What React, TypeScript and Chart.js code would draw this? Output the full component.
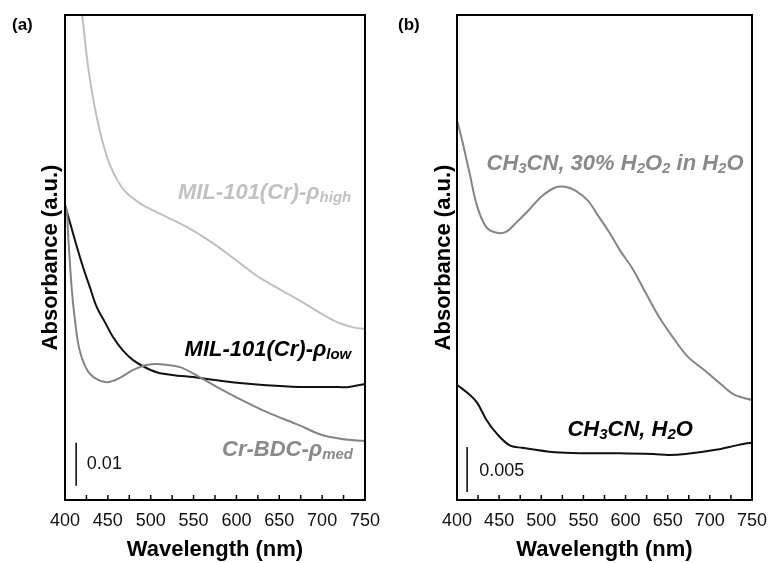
import React, { useEffect, useRef } from "react";
import { Chart, registerables } from "chart.js";
Chart.register(...registerables);

const FONT = "'Liberation Sans', Arial, Helvetica, sans-serif";

const X_MIN = 400;
const X_MAX = 750;
const xTickStep = 25;
const xLabelStep = 50;

// ---------- Panel (a) ----------
const highWl = [400, 410, 420, 427, 437, 449, 461, 472, 491, 519, 542, 572, 604, 627, 673, 712, 735, 750];
const highAbs = [0.145, 0.127, 0.1128, 0.1007, 0.0891, 0.0798, 0.0744, 0.0714, 0.0686, 0.0658, 0.0635, 0.0598, 0.0551, 0.0517, 0.0465, 0.0419, 0.0402, 0.0398];

const lowWl = [400, 406, 414, 421, 429, 437, 447, 456, 467, 479, 495, 511, 557, 595, 635, 673, 712, 731, 750];
const lowAbs = [0.0686, 0.0644, 0.0588, 0.0542, 0.0495, 0.0449, 0.0412, 0.0379, 0.0349, 0.0326, 0.0307, 0.0295, 0.0284, 0.0274, 0.0267, 0.0263, 0.0263, 0.0263, 0.027];

const medWl = [400, 402, 404, 408, 412, 417, 426, 437, 449, 464, 479, 495, 511, 534, 557, 577, 595, 635, 673, 700, 723, 750];
const medAbs = [0.0686, 0.0674, 0.0605, 0.0488, 0.0412, 0.0349, 0.0302, 0.0281, 0.0274, 0.0284, 0.0302, 0.0314, 0.0316, 0.0309, 0.0286, 0.0263, 0.0244, 0.0205, 0.0174, 0.0151, 0.0142, 0.0137];

const panelAYMax = 0.1128;

// ---------- Panel (b) ----------
const h2o2Wl = [400, 406, 415, 424, 435, 447, 458, 470, 485, 500, 516, 528, 540, 555, 566, 581, 593, 609, 624, 640, 656, 674, 694, 714, 729, 750];
const h2o2Abs = [0.0422, 0.04, 0.0363, 0.0326, 0.0303, 0.0297, 0.0298, 0.0308, 0.0322, 0.0337, 0.0347, 0.0348, 0.0344, 0.0333, 0.0318, 0.0297, 0.0278, 0.0256, 0.023, 0.0203, 0.0181, 0.0159, 0.0144, 0.0128, 0.0117, 0.0111];

const h2oWl = [400, 415, 424, 435, 447, 462, 477, 516, 555, 593, 633, 651, 671, 709, 733, 750];
const h2oAbs = [0.0128, 0.0117, 0.0108, 0.0089, 0.0074, 0.0061, 0.0058, 0.0053, 0.0052, 0.0052, 0.0051, 0.005, 0.0051, 0.0056, 0.0061, 0.0064];

const panelBYMax = 0.0539;

// Labels: segments [text, isSubscript]
type Seg = [string, number];
type Label = { segs: Seg[]; x: number; y: number; align: "left" | "right"; color: string };

const panelALabels: Label[] = [
  { segs: [["MIL-101(Cr)-ρ", 0], ["high", 1]], x: 734, y: 0.0714, align: "right", color: "#c2c2c2" },
  { segs: [["MIL-101(Cr)-ρ", 0], ["low", 1]], x: 734, y: 0.0349, align: "right", color: "#000000" },
  { segs: [["Cr-BDC-ρ", 0], ["med", 1]], x: 736, y: 0.0116, align: "right", color: "#8a8a8a" },
];
const panelBLabels: Label[] = [
  { segs: [["CH", 0], ["3", 1], ["CN, 30% H", 0], ["2", 1], ["O", 0], ["2", 1], [" in H", 0], ["2", 1], ["O", 0]], x: 435, y: 0.0374, align: "left", color: "#8a8a8a" },
  { segs: [["CH", 0], ["3", 1], ["CN, H", 0], ["2", 1], ["O", 0]], x: 531, y: 0.0078, align: "left", color: "#000000" },
];

const panelABar = { x: 413, y0: 0.0033, y1: 0.0133, text: "0.01", textX: 425.5, textY: 0.0084 };
const panelBBar = { x: 412, y0: 0.0009, y1: 0.0059, text: "0.005", textX: 426.5, textY: 0.0032 };

type Series = { wl: number[]; abs: number[]; color: string };

const panelASeries: Series[] = [
  { wl: highWl, abs: highAbs, color: "#c0c0c0" },
  { wl: medWl, abs: medAbs, color: "#848484" },
  { wl: lowWl, abs: lowAbs, color: "#111111" },
];
const panelBSeries: Series[] = [
  { wl: h2o2Wl, abs: h2o2Abs, color: "#858585" },
  { wl: h2oWl, abs: h2oAbs, color: "#111111" },
];

type PanelProps = {
  width: number;
  letter: string;
  letterX: number;
  series: Series[];
  yMax: number;
  yWidth: number;
  padRight: number;
  yTitlePad: number;
  labels: Label[];
  bar: { x: number; y0: number; y1: number; text: string; textX: number; textY: number };
};

function drawRich(ctx: CanvasRenderingContext2D, l: Label, px: number, py: number) {
  const main = `italic bold 22px ${FONT}`;
  const sub = `italic bold 15px ${FONT}`;
  let total = 0;
  const widths = l.segs.map(([t, s]) => {
    ctx.font = s ? sub : main;
    const w = ctx.measureText(t).width;
    total += w;
    return w;
  });
  let x = l.align === "right" ? px - total : px;
  ctx.fillStyle = l.color;
  ctx.textAlign = "left";
  ctx.textBaseline = "middle";
  l.segs.forEach(([t, s], i) => {
    ctx.font = s ? sub : main;
    ctx.fillText(t, x, s ? py + 5 : py);
    x += widths[i];
  });
}

function Panel(props: PanelProps) {
  const ref = useRef<HTMLCanvasElement>(null);
  useEffect(() => {
    const p = props;
    const decor = {
      id: "decor",
      afterDraw(chart: any) {
        const ctx: CanvasRenderingContext2D = chart.ctx;
        const { left, right, top, bottom } = chart.chartArea;
        const xs = chart.scales.x;
        const ys = chart.scales.y;
        ctx.save();
        // inward ticks
        ctx.strokeStyle = "#000";
        ctx.lineWidth = 1.5;
        xs.ticks.forEach((t: any) => {
          const px = xs.getPixelForValue(t.value);
          ctx.beginPath();
          ctx.moveTo(px, bottom);
          ctx.lineTo(px, bottom - 5);
          ctx.stroke();
        });
        // frame
        ctx.lineWidth = 2;
        ctx.strokeRect(left, top, right - left, bottom - top);
        // scale bar
        const b = p.bar;
        ctx.lineWidth = 1.5;
        ctx.beginPath();
        ctx.moveTo(xs.getPixelForValue(b.x), ys.getPixelForValue(b.y0));
        ctx.lineTo(xs.getPixelForValue(b.x), ys.getPixelForValue(b.y1));
        ctx.stroke();
        ctx.fillStyle = "#111";
        ctx.font = `18px ${FONT}`;
        ctx.textAlign = "left";
        ctx.textBaseline = "middle";
        ctx.fillText(b.text, xs.getPixelForValue(b.textX), ys.getPixelForValue(b.textY));
        // curve labels
        p.labels.forEach((l) => drawRich(ctx, l, xs.getPixelForValue(l.x), ys.getPixelForValue(l.y)));
        // panel letter
        ctx.fillStyle = "#000";
        ctx.font = `bold 17px ${FONT}`;
        ctx.textAlign = "left";
        ctx.textBaseline = "middle";
        ctx.fillText(p.letter, p.letterX, 25);
        ctx.restore();
      },
    };
    const chart = new Chart(ref.current!, {
      type: "line",
      data: {
        datasets: p.series.map((s) => ({
          data: s.wl.map((x, i) => ({ x, y: s.abs[i] })),
          borderColor: s.color,
          borderWidth: 2,
          pointRadius: 0,
          fill: false,
          tension: 0.35,
        })),
      },
      options: {
        animation: false,
        responsive: true,
        maintainAspectRatio: false,
        events: [],
        layout: { padding: { top: 15, right: p.padRight, left: 0, bottom: 0 } },
        plugins: { legend: { display: false }, tooltip: { enabled: false } },
        scales: {
          x: {
            type: "linear",
            min: X_MIN,
            max: X_MAX,
            grid: { display: false, drawTicks: false },
            border: { display: false },
            ticks: {
              stepSize: xTickStep,
              autoSkip: false,
              maxRotation: 0,
              padding: 10,
              color: "#111",
              font: { family: FONT, size: 18 },
              callback: (v: any) => (Number(v) % xLabelStep === 0 ? String(v) : ""),
            },
            title: {
              display: true,
              text: "Wavelength (nm)",
              color: "#000",
              font: { family: FONT, size: 22, weight: "bold" },
              padding: { top: -2, bottom: 0 },
            },
            afterFit: (s: any) => {
              s.height = 63;
            },
          },
          y: {
            type: "linear",
            min: 0,
            max: p.yMax,
            grid: { display: false, drawTicks: false },
            border: { display: false },
            ticks: { display: false },
            title: {
              display: true,
              text: "Absorbance (a.u.)",
              color: "#000",
              font: { family: FONT, size: 22, weight: "bold" },
              padding: { top: p.yTitlePad, bottom: 0 },
            },
            afterFit: (s: any) => {
              s.width = p.yWidth;
            },
          },
        },
      },
      plugins: [decor],
    } as any);
    return () => chart.destroy();
  }, []);
  return (
    <div style={{ position: "relative", width: props.width, height: 563 }}>
      <canvas ref={ref} />
    </div>
  );
}

export default function App() {
  return (
    <div style={{ position: "absolute", left: 0, top: 0, width: 777, height: 563, display: "flex", background: "#fff" }}>
      <Panel width={390} letter="(a)" letterX={12} series={panelASeries} yMax={panelAYMax} yWidth={65} padRight={24} yTitlePad={37.8} labels={panelALabels} bar={panelABar} />
      <Panel width={387} letter="(b)" letterX={8} series={panelBSeries} yMax={panelBYMax} yWidth={67} padRight={19} yTitlePad={40.3} labels={panelBLabels} bar={panelBBar} />
    </div>
  );
}
